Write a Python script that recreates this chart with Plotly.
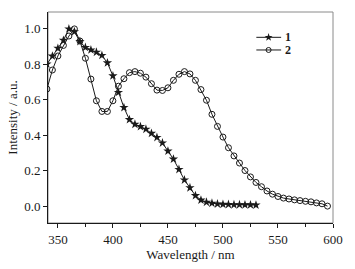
import plotly.graph_objects as go

wl1 = list(range(340, 531, 5))
s1 = [0.80, 0.845, 0.889, 0.934, 0.998, 0.982, 0.927, 0.894, 0.880, 0.867, 0.849,
      0.807, 0.734, 0.641, 0.556, 0.488, 0.462, 0.449, 0.434, 0.411, 0.388, 0.357,
      0.311, 0.266, 0.208, 0.149, 0.105, 0.061, 0.036, 0.024, 0.018, 0.014, 0.012,
      0.011, 0.010, 0.010, 0.009, 0.009, 0.008]

wl2 = list(range(340, 596, 5))
s2 = [0.66, 0.767, 0.846, 0.905, 0.958, 0.998, 0.930, 0.833, 0.716, 0.594, 0.534,
      0.534, 0.594, 0.676, 0.718, 0.752, 0.758, 0.749, 0.727, 0.690, 0.654, 0.652,
      0.667, 0.709, 0.743, 0.758, 0.745, 0.709, 0.657, 0.597, 0.518, 0.450, 0.390,
      0.330, 0.284, 0.244, 0.202, 0.166, 0.135, 0.111, 0.087, 0.069, 0.056, 0.047,
      0.042, 0.037, 0.033, 0.029, 0.026, 0.020, 0.015, 0.002]

series_names = ["1", "2"]
xticks = [350, 400, 450, 500, 550, 600]
yticks = [0.0, 0.2, 0.4, 0.6, 0.8, 1.0]

FONT = "Liberation Serif"
INK = "#1a1a1a"

fig = go.Figure()
fig.add_trace(go.Scatter(
    x=wl1, y=s1, mode="lines+markers", showlegend=False,
    line=dict(color=INK, width=1),
    marker=dict(symbol="star", size=7, color=INK, line=dict(width=0)),
))
fig.add_trace(go.Scatter(
    x=wl2, y=s2, mode="lines+markers", showlegend=False,
    line=dict(color=INK, width=1),
    marker=dict(symbol="circle-open", size=6, color=INK, line=dict(width=1)),
))

# custom compact legend (glyph positions in a hidden 0..1 overlay frame)
leg_x0, leg_x1, leg_xm, leg_tx = 0.731, 0.818, 0.774, 0.826
leg_rows = [0.880, 0.820]
leg_symbols = ["star", "circle-open"]
shapes = [dict(type="rect", xref="paper", yref="paper", x0=0, y0=0, x1=1, y1=1,
               line=dict(color="#8a8a8a", width=1), layer="below")]
annotations = []
for name, yy, sym in zip(series_names, leg_rows, leg_symbols):
    shapes.append(dict(type="line", xref="paper", yref="paper", x0=leg_x0, x1=leg_x1,
                       y0=yy, y1=yy, line=dict(color=INK, width=1)))
    fig.add_trace(go.Scatter(
        x=[leg_xm], y=[yy], xaxis="x2", yaxis="y2", mode="markers", showlegend=False,
        hoverinfo="skip",
        marker=dict(symbol=sym, size=6 if sym == "star" else 5, color=INK,
                    line=dict(width=0 if sym == "star" else 1, color=INK)),
    ))
    annotations.append(dict(xref="paper", yref="paper", x=leg_tx, y=yy, text=f"<b>{name}</b>",
                            showarrow=False, xanchor="left", yanchor="middle",
                            font=dict(family=FONT, size=12, color=INK)))

fig.update_layout(
    width=355, height=269,
    margin=dict(l=42, r=16, t=12, b=40),
    paper_bgcolor="white", plot_bgcolor="white",
    font=dict(family=FONT, size=13, color=INK),
    showlegend=False,
    shapes=shapes, annotations=annotations,
    xaxis2=dict(overlaying="x", range=[0, 1], visible=False),
    yaxis2=dict(overlaying="y", range=[0, 1], visible=False),
)
fig.update_layout(xaxis=dict(
    range=[341, 600], tickvals=xticks, ticks="outside", ticklen=4, tickwidth=1,
    tickcolor=INK, showline=True, linecolor=INK, linewidth=1,
    showgrid=False, zeroline=False,
    minor=dict(tickvals=[375, 425, 475, 525, 575], ticks="outside", ticklen=3,
               tickcolor=INK, showgrid=False),
    title=dict(text="Wavelength / nm", font=dict(family=FONT, size=13), standoff=1),
    tickfont=dict(family=FONT, size=13),
))
fig.update_layout(yaxis=dict(
    range=[-0.093, 1.093], tickvals=yticks, ticktext=[f"{v:.1f}" for v in yticks],
    ticks="outside", ticklen=4, tickwidth=1, tickcolor=INK,
    showline=True, linecolor=INK, linewidth=1, showgrid=False, zeroline=False,
    title=dict(text="Intensity / a.u.", font=dict(family=FONT, size=13), standoff=3),
    tickfont=dict(family=FONT, size=13),
))

fig.write_html("out.html",
               config={"displayModeBar": False, "staticPlot": True},
               post_script="document.body.style.margin='0';document.body.style.overflow='hidden';")
